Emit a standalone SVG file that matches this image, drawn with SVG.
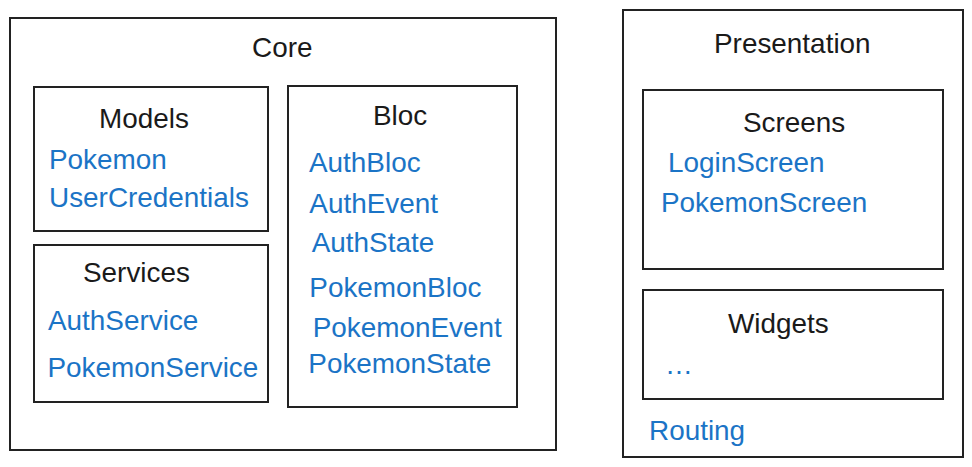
<svg xmlns="http://www.w3.org/2000/svg" width="972" height="467" viewBox="0 0 972 467">
<style>
.box{fill:#fff;stroke:#222;stroke-width:2}
.t{font-family:"Liberation Sans",Arial,sans-serif;font-size:27.9px;fill:#1a1a1a}
.i{font-family:"Liberation Sans",Arial,sans-serif;font-size:27.9px;fill:#1b74c6}
</style>
<rect width="972" height="467" fill="#fff"/>
<g id="core">
<rect class="box" x="10" y="18" width="546" height="432"/>
<text class="t" x="252" y="57">Core</text>
</g>
<g id="models">
<rect class="box" x="34" y="87" width="234" height="144"/>
<text class="t" x="99" y="128">Models</text>
<text class="i" x="49" y="169">Pokemon</text>
<text class="i" x="49" y="207">UserCredentials</text>
</g>
<g id="services">
<rect class="box" x="34" y="245" width="234" height="157"/>
<text class="t" x="83" y="282">Services</text>
<text class="i" x="48" y="330">AuthService</text>
<text class="i" x="47.5" y="377">PokemonService</text>
</g>
<g id="bloc">
<rect class="box" x="288" y="86" width="229" height="321"/>
<text class="t" x="373" y="125">Bloc</text>
<text class="i" x="309" y="172">AuthBloc</text>
<text class="i" x="309.3" y="213">AuthEvent</text>
<text class="i" x="311.7" y="252">AuthState</text>
<text class="i" x="309.3" y="297">PokemonBloc</text>
<text class="i" x="312.7" y="337">PokemonEvent</text>
<text class="i" x="308.3" y="373">PokemonState</text>
</g>
<g id="presentation">
<rect class="box" x="623" y="10" width="340" height="447"/>
<text class="t" x="714" y="53">Presentation</text>
<text class="i" x="649" y="440">Routing</text>
</g>
<g id="screens">
<rect class="box" x="643" y="90" width="300" height="179"/>
<text class="t" x="743" y="132">Screens</text>
<text class="i" x="668" y="172">LoginScreen</text>
<text class="i" x="661" y="212">PokemonScreen</text>
</g>
<g id="widgets">
<rect class="box" x="643" y="290" width="300" height="109"/>
<text class="t" x="728" y="333">Widgets</text>
<text class="i" x="665" y="374">…</text>
</g>
<g id="connectors"></g>
</svg>
